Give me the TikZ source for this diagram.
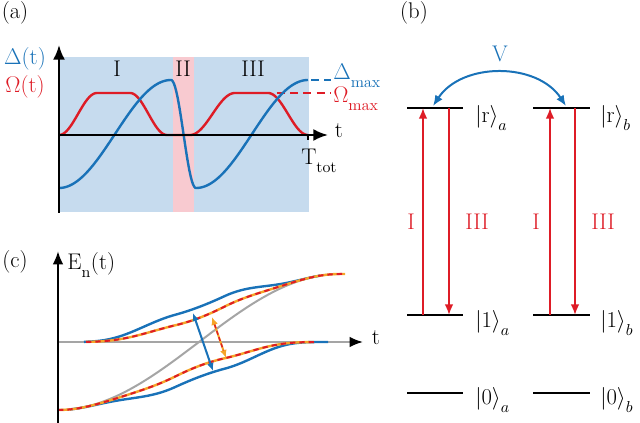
\documentclass[tikz,border=0pt]{standalone}
\usepackage{fix-cm}
\usetikzlibrary{arrows.meta}
\definecolor{cblue}{RGB}{25,114,184}
\definecolor{cred}{RGB}{222,28,38}
\definecolor{corange}{RGB}{245,165,40}
\definecolor{bgblue}{RGB}{198,219,238}
\definecolor{bgpink}{RGB}{248,202,208}
\definecolor{cgray}{RGB}{165,165,165}
\newcommand{\lowsub}[1]{_{\raisebox{-3pt}{$\scriptstyle #1$}}}
\tikzset{declare function={
  ramp(\x,\a,\b,\c,\d)=(\x<\a)?0:((\x<\b)?(1-cos((180/(\b-\a))*(\x-\a)))/2:((\x<\c)?1:((\x<\d)?(1+cos((180/(\d-\c))*(\x-\c)))/2:0)));
  Om(\x)=42*(ramp(\x,59,97,130,167)+ramp(\x,190,235,268,308));
  Dl(\x)=(\x<171)?54*cos((180/112)*(\x-59)):((\x<196)?-54*cos((180/25)*(\x-171)):54*cos((180/112)*(\x-196)));
  Dd(\x)=(\x>340)?68:-68*cos((180/282)*(\x-58));
  gd(\x)=24*ramp(\x,62,175,225,330);
  gb(\x)=35*ramp(\x,62,175,225,330);
  Eu(\x,\g)=Dd(\x)/2+sqrt(Dd(\x)*Dd(\x)/4+\g*\g);
  El(\x,\g)=Dd(\x)/2-sqrt(Dd(\x)*Dd(\x)/4+\g*\g);
}}
\begin{document}
\begin{tikzpicture}[x=0.75pt,y=-0.75pt,
  font=\fontsize{17}{20}\selectfont,
  curveline/.style={line width=1.8pt},
  axisarrow/.style={line width=1.8pt,-{Latex[length=11pt,width=9pt]}},
  level/.style={line width=1.8pt,black},
  transarrow/.style={cred,line width=1.3pt,-{Latex[length=8pt,width=6.5pt]}},
  txt/.style={inner sep=0pt},
  dashseg/.style={dash pattern=on 6pt off 4pt},
  mixdash/.style={cred,line width=1.5pt,dash pattern=on 4pt off 3pt}]
\useasboundingbox (0,0) rectangle (640,423);

% ---------- panel (a) ----------
\node[txt,anchor=base] (la) at (15,19) {(a)};
\fill[bgblue] (60,57) rectangle (309,212);
\fill[bgpink] (173,57) rectangle (194,212);
\draw[cred,curveline] plot[domain=59:308,samples=250] (\x,{135-Om(\x)});
\draw[cred,curveline,dashseg] (250,93) -- (331,93);
\draw[cblue,curveline] plot[domain=59:308,samples=250] (\x,{134+Dl(\x)});
\draw[cblue,curveline,dashseg] (311,80) -- (331,80);
\coordinate (ayb) at (59,213);
\coordinate (ayt) at (59,45);
\coordinate (ao) at (59,135);
\coordinate (axe) at (328,135);
\coordinate (tick) at (308,135);
\draw[axisarrow] (ayb) -- (ayt);
\draw[axisarrow] (ao) -- (axe);
\draw[line width=1.8pt] (tick) -- ++(0,5);
\node[txt,cblue,anchor=base] (ldel) at (25,65) {$\Delta(\mathrm{t})$};
\node[txt,cred,anchor=base] (lom) at (25,93) {$\Omega(\mathrm{t})$};
\node[txt,anchor=base] (p1) at (117,77) {I};
\node[txt,anchor=base] (p2) at (183,77) {II};
\node[txt,anchor=base] (p3) at (253,77) {III};
\node[txt,anchor=base] (lt) at (339,138) {t};
\node[txt,anchor=base west] (ltot) at (301,165) {$\mathrm{T}\lowsub{\mathrm{tot}}$};
\node[txt,cblue,anchor=base west] (ldmax) at (333,80) {$\Delta\lowsub{\mathrm{max}}$};
\node[txt,cred,anchor=base west] (lomax) at (333,103) {$\Omega\lowsub{\mathrm{max}}$};

% ---------- panel (b) ----------
\node[txt,anchor=base] (lb) at (414,19) {(b)};
\coordinate (ra1) at (407,108); \coordinate (ra2) at (463,108);
\coordinate (rb1) at (533,108); \coordinate (rb2) at (590,108);
\coordinate (oa1) at (407,315); \coordinate (oa2) at (463,315);
\coordinate (ob1) at (533,315); \coordinate (ob2) at (590,315);
\coordinate (za1) at (407,393); \coordinate (za2) at (463,393);
\coordinate (zb1) at (533,393); \coordinate (zb2) at (590,393);
\draw[level] (ra1) -- (ra2);
\draw[level] (rb1) -- (rb2);
\draw[level] (oa1) -- (oa2);
\draw[level] (ob1) -- (ob2);
\draw[level] (za1) -- (za2);
\draw[level] (zb1) -- (zb2);
\coordinate (upa0) at (423,315); \coordinate (upa1) at (423,108);
\coordinate (dna0) at (449,108); \coordinate (dna1) at (449,315);
\coordinate (upb0) at (550,315); \coordinate (upb1) at (550,108);
\coordinate (dnb0) at (575,108); \coordinate (dnb1) at (575,315);
\draw[transarrow] (upa0) -- (upa1);
\draw[transarrow] (dna0) -- (dna1);
\draw[transarrow] (upb0) -- (upb1);
\draw[transarrow] (dnb0) -- (dnb1);
\node[txt,cred,anchor=base] (tIa) at (411,230) {I};
\node[txt,cred,anchor=base] (tIIIa) at (477,230) {III};
\node[txt,cred,anchor=base] (tIb) at (536,230) {I};
\node[txt,cred,anchor=base] (tIIIb) at (603,230) {III};
\node[txt,anchor=base west] (kra) at (475,123) {$|\mathrm{r}\rangle\lowsub{a}$};
\node[txt,anchor=base west] (koa) at (475,328) {$|1\rangle\lowsub{a}$};
\node[txt,anchor=base west] (kza) at (475,405) {$|0\rangle\lowsub{a}$};
\node[txt,anchor=base west] (krb) at (600,123) {$|\mathrm{r}\rangle\lowsub{b}$};
\node[txt,anchor=base west] (kob) at (600,328) {$|1\rangle\lowsub{b}$};
\node[txt,anchor=base west] (kzb) at (600,405) {$|0\rangle\lowsub{b}$};
\coordinate (va) at (433,106);
\coordinate (vb) at (566,106);
\draw[cblue,line width=1.5pt,{Latex[length=8pt,width=6.5pt]}-{Latex[length=8pt,width=6.5pt]}]
  (va) .. controls (462,62) and (537,62) .. (vb);
\node[txt,cblue,anchor=base] (lv) at (500,62) {V};

% ---------- panel (c) ----------
\node[txt,anchor=base] (lc) at (15,268) {(c)};
\coordinate (co) at (58,342);
\coordinate (cte) at (363,342);
\coordinate (cyb) at (58,423);
\coordinate (cyt) at (58,251);
\draw[cgray,line width=1.6pt,-{Latex[length=10pt,width=8pt,color=black]}] (co) -- (cte);
\draw[cgray,line width=1.5pt] plot[domain=58:335,samples=140] (\x,{342-Dd(\x)});
\draw[cblue,curveline] plot[domain=84:320,samples=140] (\x,{342-Eu(\x,gb(\x))});
\draw[cblue,curveline] plot[domain=70:328,samples=140] (\x,{342-El(\x,gb(\x))});
\draw[corange,curveline] plot[domain=86:345,samples=130] (\x,{342-Eu(\x,gd(\x))});
\draw[mixdash] plot[domain=86:345,samples=130] (\x,{342-Eu(\x,gd(\x))});
\draw[corange,curveline] plot[domain=58:314,samples=130] (\x,{342-El(\x,gd(\x))});
\draw[mixdash] plot[domain=58:314,samples=130] (\x,{342-El(\x,gd(\x))});
\draw[axisarrow,-{Latex[length=10pt,width=8pt]}] (cyb) -- (cyt);
\coordinate (bu) at (193,313);
\coordinate (bl) at (213,371);
\draw[cblue,line width=1.5pt,{Latex[length=6pt,width=5pt]}-{Latex[length=6pt,width=5pt]}] (bu) -- (bl);
\coordinate (ou) at (212,317);
\coordinate (ol) at (226,358);
\draw[corange,line width=1.5pt,{Latex[length=6pt,width=5pt]}-{Latex[length=6pt,width=5pt]}] (ou) -- (ol);
\draw[cred,line width=1.1pt,dash pattern=on 3pt off 2pt,shorten <=6pt,shorten >=6pt] (ou) -- (ol);
\node[txt,anchor=base] (lt2) at (376,345) {t};
\node[txt,anchor=base west] (len) at (67,270) {$\mathrm{E}\lowsub{\mathrm{n}}(\mathrm{t})$};
\end{tikzpicture}
\end{document}
